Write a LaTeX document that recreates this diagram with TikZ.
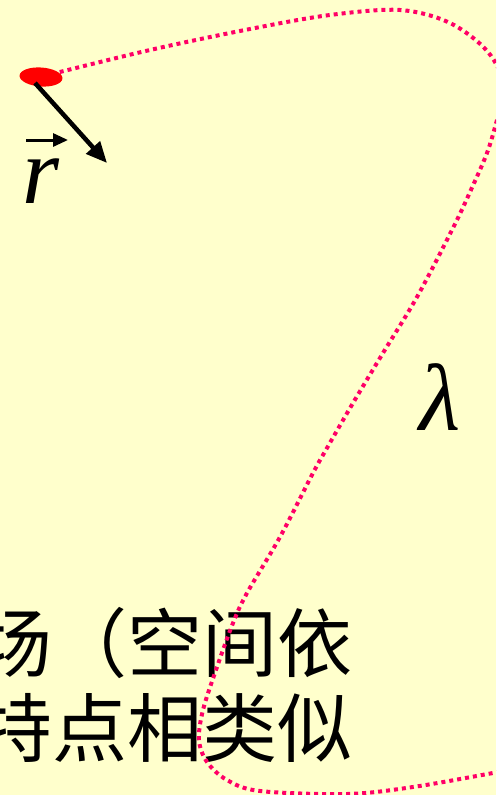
\documentclass[tikz,border=0pt]{standalone}
\usepackage{fontspec}
\setmainfont{Liberation Serif}
\newfontfamily\cjk{Noto Sans CJK SC}
\usetikzlibrary{arrows.meta,shapes.geometric}
\definecolor{bg}{HTML}{FFFFCC}
\definecolor{curvecol}{HTML}{FF0066}
\tikzset{
  loopline/.style={curvecol, line width=4pt, dash pattern=on 4pt off 4pt},
  blob/.style={ellipse, fill=red, minimum width=43pt, minimum height=19pt, inner sep=0pt},
  rvec/.style={black, line width=4.5pt, -{Triangle[length=21pt,width=18pt]}},
  smallvec/.style={black, line width=3pt, -{Triangle[length=15pt,width=13pt]}},
  bigmath/.style={inner sep=0pt, anchor=base, font=\fontsize{95}{95}\selectfont\itshape},
  cjktext/.style={inner sep=0pt, anchor=base west, font=\fontsize{75}{75}\selectfont\cjk}
}
\begin{document}
\begin{tikzpicture}[x=1pt,y=-1pt]
\path[use as bounding box, fill=bg] (0,0) rectangle (496,795);
\clip (0,0) rectangle (496,795);
% Chinese text (cut at the left edge, as in the reference)
\node[cjktext] (t1) at (-23,671) {场（空间依};
\node[cjktext] (t2) at (-23,756) {特点相类似};
% dotted curve
\draw[loopline] plot[smooth, tension=0.55] coordinates {
 (52,74) (150,50) (250,29) (330,15) (400,10) (450,23) (488,52) (505,88) (497,120)
 (487,153) (470,192) (453,228) (417,297) (383,353) (353,403) (327,448) (313,473)
 (280,537) (247,593) (233,623) (217,667) (203,710) (199,740) (207,762) (227,780)
 (260,791) (347,794) (413,787) (493,773) (520,768)};
% point
\node[blob, rotate=-4] (p) at (41,77) {};
\coordinate (a0) at (35,83);
\coordinate (a1) at (107,163);
\draw[rvec] (a0) -- (a1);
% labels
\node[bigmath] (r) at (41,203) {r};
\coordinate (v0) at (26,140);
\coordinate (v1) at (68,140);
\draw[smallvec] (v0) -- (v1);
\node[bigmath] (lam) at (440,430) {λ};
\end{tikzpicture}
\end{document}
